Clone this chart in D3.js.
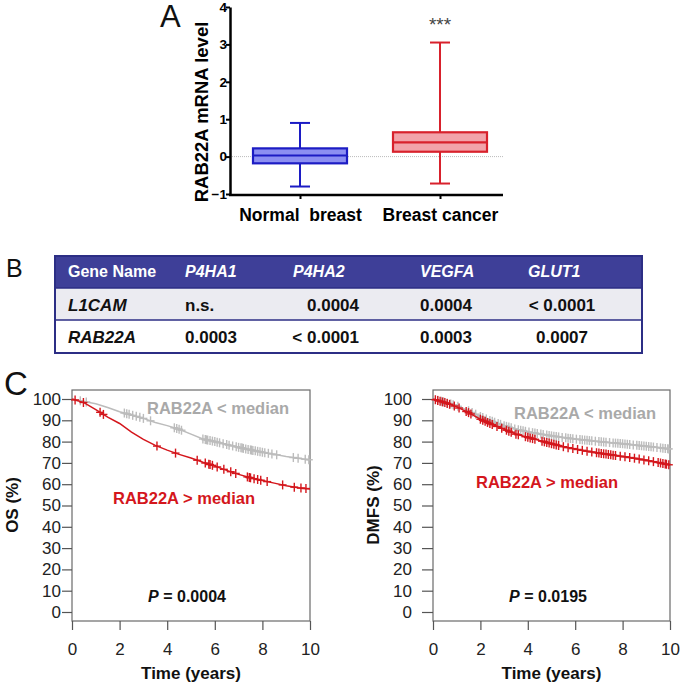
<!DOCTYPE html>
<html><head><meta charset="utf-8">
<script src="https://cdn.jsdelivr.net/npm/d3@7"></script>
<style>body{margin:0;background:#fff}svg{display:block}text{font-family:"Liberation Sans",Arial,sans-serif}</style>
</head><body><div id="chart"></div>
<script>
// ---------- Panel A data ----------
const boxCategories = ["Normal  breast", "Breast cancer"];
const boxWhiskerLow = [-0.8, -0.72];
const boxQ1 = [-0.18, 0.13];
const boxMedian = [0.03, 0.38];
const boxQ3 = [0.22, 0.65];
const boxWhiskerHigh = [0.9, 3.05];
const boxTicks = [-1, 0, 1, 2, 3, 4];

// ---------- Panel B data ----------
const tableHeader = ["Gene Name", "P4HA1", "P4HA2", "VEGFA", "GLUT1"];
const tableRowL1CAM = ["L1CAM", "n.s.", "0.0004", "0.0004", "< 0.0001"];
const tableRowRAB22A = ["RAB22A", "0.0003", "< 0.0001", "0.0003", "0.0007"];

// ---------- Panel C data ----------
const kmTime = [0, 0.5, 1, 1.5, 2, 2.5, 3, 3.5, 4, 4.5, 5, 5.5, 6, 6.5, 7, 7.5, 8, 8.5, 9, 9.5, 10];
const osLow  = [100, 98.8, 97.8, 96, 94, 92.5, 90.9, 89, 87.5, 85.8, 83.5, 81.2, 80, 78.6, 77.3, 76.1, 75, 74, 73, 72.2, 71.4];
const osHigh = [100, 98.3, 95, 91.5, 88.5, 84.5, 81, 78.2, 76, 74, 72.3, 70.3, 68.5, 66.5, 64.6, 63, 61.7, 60.5, 59.3, 58.3, 57.8];
const dmfsLow  = [100, 98.5, 96.8, 94.5, 91.8, 89.5, 87.5, 85.8, 84.6, 83.6, 82.7, 81.9, 81.2, 80.6, 80, 79.5, 79, 78.4, 77.8, 77.2, 76.5];
const dmfsHigh = [100, 98.3, 96.3, 93.6, 90.5, 88, 85.8, 83.5, 82, 80.5, 79, 77.6, 76.5, 75.5, 74.6, 73.8, 73, 72.2, 71.2, 70.2, 69];
const osLowCensor = [0.35, 0.6, 2.2, 2.3, 2.4, 2.55, 2.7, 2.85, 3.0, 3.3, 4.3, 4.4, 4.5, 4.6, 5.5, 5.6, 5.65, 5.7, 5.8, 5.9, 6.0, 6.1, 6.2, 6.35, 6.5, 6.6, 6.75, 6.9, 7.0, 7.1, 7.15, 7.2, 7.3, 7.4, 7.5, 7.55, 7.6, 7.7, 7.8, 7.9, 8.0, 8.1, 8.25, 8.4, 8.6, 9.3, 9.5, 9.8, 9.95];
const osHighCensor = [0.13, 0.48, 1.18, 1.32, 3.57, 4.35, 5.26, 5.6, 5.75, 5.8, 5.9, 6.1, 6.38, 6.67, 6.88, 7.37, 7.45, 7.5, 7.65, 7.8, 7.93, 8.2, 8.85, 9.34, 9.62, 9.83];
const dmfsLowCensor = [0.2, 0.35, 0.45, 0.6, 0.75, 0.85, 1.05, 1.5, 1.65, 1.8, 2.0, 2.1, 2.25, 2.4, 2.5, 2.6, 2.75, 2.85, 3.0, 3.1, 3.2, 3.3, 3.45, 3.6, 3.7, 3.8, 3.9, 4.05, 4.2, 4.3, 4.4, 4.55, 4.65, 4.8, 4.9, 5.0, 5.1, 5.2, 5.3, 5.45, 5.6, 5.7, 5.8, 5.9, 6.05, 6.2, 6.3, 6.4, 6.5, 6.6, 6.7, 6.85, 7.0, 7.1, 7.2, 7.3, 7.45, 7.6, 7.7, 7.8, 7.9, 8.0, 8.1, 8.2, 8.3, 8.45, 8.6, 8.7, 8.8, 8.9, 9.0, 9.1, 9.2, 9.3, 9.45, 9.6, 9.7, 9.8, 9.9, 9.95];
const dmfsHighCensor = [0.1, 0.2, 0.3, 0.4, 0.5, 0.6, 0.7, 0.9, 1.1, 1.4, 1.5, 1.6, 2.0, 2.1, 2.2, 2.3, 2.4, 2.5, 2.7, 2.9, 3.1, 3.2, 3.3, 3.5, 3.6, 3.9, 4.0, 4.1, 4.2, 4.3, 4.6, 4.7, 4.8, 4.9, 5.0, 5.1, 5.2, 5.3, 5.5, 5.7, 5.9, 6.1, 6.3, 6.5, 6.7, 6.9, 7.0, 7.1, 7.2, 7.3, 7.4, 7.5, 7.6, 7.7, 7.9, 8.1, 8.3, 8.5, 8.7, 8.9, 9.1, 9.3, 9.5, 9.6, 9.7, 9.8, 9.85, 9.95];
const kmYTicks = [0, 10, 20, 30, 40, 50, 60, 70, 80, 90, 100];
const kmXTicks = [0, 2, 4, 6, 8, 10];

const FONT = '"Liberation Sans",Arial,sans-serif';
const svg = d3.select("#chart").append("svg").attr("width", 680).attr("height", 689);

// ================= Panel A =================
const yA = d3.scaleLinear().domain([-1, 4]).range([194, 7]);
const xA = d3.scalePoint().domain(boxCategories).range([230, 510]).padding(0.5);
const gA = svg.append("g");
gA.append("text").attr("x", 160).attr("y", 27).attr("font-size", 31).attr("fill", "#111").text("A");
gA.append("line").attr("x1", 230).attr("x2", 503).attr("y1", yA(0)).attr("y2", yA(0))
  .attr("stroke", "#bbb").attr("stroke-width", 1).attr("stroke-dasharray", "1,1");
const yAxisA = gA.append("g").attr("transform", "translate(230,0)")
  .call(d3.axisLeft(yA).tickValues(boxTicks).tickSize(4).tickSizeOuter(0).tickFormat(d3.format("d")));
yAxisA.select(".domain").attr("stroke", "#000").attr("stroke-width", 2.5);
yAxisA.selectAll(".tick line").attr("stroke", "#000").attr("stroke-width", 2);
yAxisA.selectAll(".tick text").attr("font-family", FONT).attr("font-size", 13.5).attr("font-weight", "bold").attr("fill", "#000").attr("x", -3);
gA.append("line").attr("x1", 229).attr("x2", 503).attr("y1", 195).attr("y2", 195).attr("stroke", "#000").attr("stroke-width", 2.5);
const xAxisA = gA.append("g").attr("transform", "translate(0,195)")
  .call(d3.axisBottom(xA).tickSize(4).tickSizeOuter(0));
xAxisA.select(".domain").remove();
xAxisA.selectAll(".tick line").attr("stroke", "#000").attr("stroke-width", 2);
xAxisA.selectAll(".tick text").attr("font-family", FONT).attr("font-size", 17.5).attr("font-weight", "bold").attr("fill", "#000")
  .attr("y", 14).attr("dy", "0.71em").style("white-space", "pre").attr("xml:space", "preserve");
gA.append("text").attr("transform", "translate(208,112) rotate(-90)").attr("text-anchor", "middle")
  .attr("font-size", 18.5).attr("font-weight", "bold").attr("fill", "#000").text("RAB22A mRNA level");

const boxStroke = ["#1c1cc4", "#d8212c"];
const boxFill = ["#8c8ff2", "#f2a3aa"];
const bw = 47;
boxCategories.forEach((c, i) => {
  const cx = xA(c);
  const g = gA.append("g");
  g.append("line").attr("x1", cx).attr("x2", cx).attr("y1", yA(boxWhiskerLow[i])).attr("y2", yA(boxQ1[i])).attr("stroke", boxStroke[i]).attr("stroke-width", 2);
  g.append("line").attr("x1", cx).attr("x2", cx).attr("y1", yA(boxQ3[i])).attr("y2", yA(boxWhiskerHigh[i])).attr("stroke", boxStroke[i]).attr("stroke-width", 2);
  [boxWhiskerLow[i], boxWhiskerHigh[i]].forEach(v => g.append("line").attr("x1", cx - 10).attr("x2", cx + 10)
    .attr("y1", yA(v)).attr("y2", yA(v)).attr("stroke", boxStroke[i]).attr("stroke-width", 2));
  g.append("rect").attr("x", cx - bw).attr("width", 2 * bw).attr("y", yA(boxQ3[i])).attr("height", yA(boxQ1[i]) - yA(boxQ3[i]))
    .attr("fill", boxFill[i]).attr("stroke", boxStroke[i]).attr("stroke-width", 2.2);
  g.append("line").attr("x1", cx - bw).attr("x2", cx + bw).attr("y1", yA(boxMedian[i])).attr("y2", yA(boxMedian[i])).attr("stroke", boxStroke[i]).attr("stroke-width", 2.2);
});
gA.append("text").attr("x", xA(boxCategories[1])).attr("y", 31).attr("text-anchor", "middle")
  .attr("font-size", 19).attr("fill", "#444").text("***");

// ================= Panel B =================
const gB = svg.append("g");
gB.append("text").attr("x", 6).attr("y", 277).attr("font-size", 25).attr("fill", "#111").text("B");
const tL = 55, tR = 642;
const rowTops = [256, 288, 320, 353];
const rowFills = ["#3e3f98", "#ebebf1", "#ffffff"];
const allRows = [tableHeader, tableRowL1CAM, tableRowRAB22A];
gB.selectAll("rect.row").data(allRows).join("rect").attr("class", "row")
  .attr("x", tL).attr("width", tR - tL).attr("y", (d, i) => rowTops[i]).attr("height", (d, i) => rowTops[i + 1] - rowTops[i])
  .attr("fill", (d, i) => rowFills[i]);
gB.append("line").attr("x1", tL).attr("x2", tR).attr("y1", 288).attr("y2", 288).attr("stroke", "#2c2e85").attr("stroke-width", 1.5);
gB.append("line").attr("x1", tL).attr("x2", tR).attr("y1", 320).attr("y2", 320).attr("stroke", "#2c2e85").attr("stroke-width", 1.5);
gB.append("rect").attr("x", tL).attr("y", 256).attr("width", tR - tL).attr("height", 97).attr("fill", "none").attr("stroke", "#2c2e85").attr("stroke-width", 2);
const colX = [68, 185, 359, 420, 562];
const colAnchor = ["start", "start", "end", "start", "middle"];
const headerX = [68, 185, 293, 420, 528];
const baselines = [277, 311, 343];
tableHeader.forEach((h, j) => {
  gB.append("text").attr("x", headerX[j]).attr("y", baselines[0]).attr("font-size", 16).attr("font-weight", "bold")
    .attr("font-style", j === 0 ? "normal" : "italic").attr("fill", "#fff").text(h);
});
[tableRowL1CAM, tableRowRAB22A].forEach((row, i) => {
  row.forEach((v, j) => {
    gB.append("text").attr("x", colX[j]).attr("y", baselines[i + 1]).attr("text-anchor", colAnchor[j])
      .attr("font-size", 17).attr("font-weight", "bold").attr("font-style", j === 0 ? "italic" : "normal")
      .attr("fill", "#111").text(v);
  });
});

// ================= Panel C =================
svg.append("text").attr("x", 4).attr("y", 395).attr("font-size", 33).attr("fill", "#111").text("C");

function kmPanel(cfg) {
  const g = svg.append("g");
  const x = d3.scaleLinear().domain([0, 10]).range([cfg.left, cfg.right]);
  const y = d3.scaleLinear().domain([0, 100]).range([612, 399]);
  g.append("rect").attr("x", cfg.left).attr("y", 390).attr("width", cfg.right - cfg.left).attr("height", 621 - 390)
    .attr("fill", "none").attr("stroke", "#6a6a6a").attr("stroke-width", 1.2);
  const ya = g.append("g").attr("transform", `translate(${cfg.left},0)`)
    .call(d3.axisLeft(y).tickValues(kmYTicks).tickSize(cfg.tickLen).tickSizeOuter(0));
  ya.select(".domain").remove();
  ya.selectAll(".tick line").attr("stroke", "#555").attr("stroke-width", 1.2);
  ya.selectAll(".tick text").attr("font-family", FONT).attr("font-size", 17).attr("fill", "#222").attr("x", -cfg.labelGap);
  const xa = g.append("g").attr("transform", "translate(0,621)")
    .call(d3.axisBottom(x).tickValues(kmXTicks).tickSize(9).tickSizeOuter(0));
  xa.select(".domain").remove();
  xa.selectAll(".tick line").attr("stroke", "#555").attr("stroke-width", 1.2);
  xa.selectAll(".tick text").attr("font-family", FONT).attr("font-size", 17).attr("fill", "#222").attr("y", 22);
  g.append("text").attr("x", (cfg.left + cfg.right) / 2).attr("y", 679).attr("text-anchor", "middle")
    .attr("font-size", 17).attr("font-weight", "bold").attr("fill", "#111").text("Time (years)");
  g.append("text").attr("transform", `translate(${cfg.yLabelX},505) rotate(-90)`).attr("text-anchor", "middle")
    .attr("font-size", 17).attr("font-weight", "bold").attr("fill", "#111").text(cfg.yLabel);
  const pt = g.append("text").attr("x", cfg.pX).attr("y", 602).attr("text-anchor", "middle")
    .attr("font-size", 16).attr("font-weight", "bold").attr("fill", "#111");
  pt.append("tspan").attr("font-style", "italic").text("P");
  pt.append("tspan").text(" = " + cfg.p);

  const line = d3.line().x(d => x(d[0])).y(d => y(d[1])).curve(d3.curveLinear);
  const series = [
    {vals: cfg.low, censor: cfg.lowCensor, color: "#bcbcbc"},
    {vals: cfg.high, censor: cfg.highCensor, color: "#d4161c"}
  ];
  series.forEach(s => {
    const pts = kmTime.map((t, i) => [t, s.vals[i]]);
    g.append("path").datum(pts).attr("d", line).attr("fill", "none").attr("stroke", s.color).attr("stroke-width", 1.5);
    const interp = t => {
      const i = Math.min(d3.bisectRight(kmTime, t) - 1, kmTime.length - 2);
      const f = (t - kmTime[i]) / (kmTime[i + 1] - kmTime[i]);
      return s.vals[i] + f * (s.vals[i + 1] - s.vals[i]);
    };
    s.censor.forEach(t => {
      const cx = x(t), cy = y(interp(t));
      g.append("line").attr("x1", cx).attr("x2", cx).attr("y1", cy - 4.5).attr("y2", cy + 4.5).attr("stroke", s.color).attr("stroke-width", 1.4);
      g.append("line").attr("x1", cx - 4).attr("x2", cx + 4).attr("y1", cy).attr("y2", cy).attr("stroke", s.color).attr("stroke-width", 1.4);
    });
  });
  g.append("text").attr("x", cfg.lowLabel[0]).attr("y", cfg.lowLabel[1]).attr("text-anchor", "middle")
    .attr("font-size", 16.5).attr("font-weight", "bold").attr("fill", "#a9a9a9").text("RAB22A < median");
  g.append("text").attr("x", cfg.highLabel[0]).attr("y", cfg.highLabel[1]).attr("text-anchor", "middle")
    .attr("font-size", 16.5).attr("font-weight", "bold").attr("fill", "#d4161c").text("RAB22A > median");
}

kmPanel({left: 72, right: 310, tickLen: 10, labelGap: 11, yLabelX: 18, yLabel: "OS (%)", p: "0.0004", pX: 187,
  low: osLow, high: osHigh, lowCensor: osLowCensor, highCensor: osHighCensor,
  lowLabel: [218, 414], highLabel: [184, 504]});
kmPanel({left: 433, right: 670, tickLen: 11, labelGap: 21, yLabelX: 379, yLabel: "DMFS (%)", p: "0.0195", pX: 548,
  low: dmfsLow, high: dmfsHigh, lowCensor: dmfsLowCensor, highCensor: dmfsHighCensor,
  lowLabel: [585, 419], highLabel: [547, 488]});
</script></body></html>
